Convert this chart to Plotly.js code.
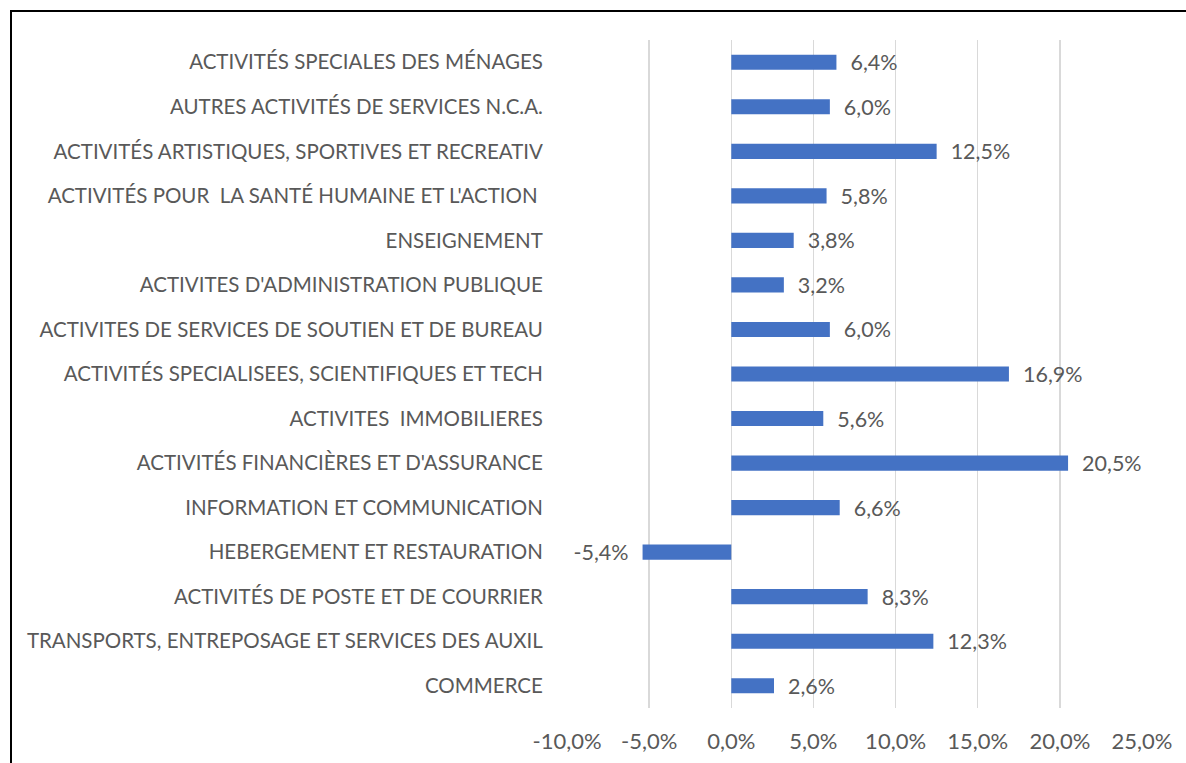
<!DOCTYPE html>
<html>
<head>
<meta charset="utf-8">
<script src="https://cdn.plot.ly/plotly-3.0.1.min.js"></script>
<style>
html,body{margin:0;padding:0;background:#fff;}
#chart{width:1186px;height:763px;position:absolute;left:0;top:0;}
#frame{position:absolute;left:10px;top:10px;width:1200px;height:800px;border-left:2px solid #000;border-top:2px solid #000;pointer-events:none;}
</style>
</head>
<body>
<div id="chart"></div>
<div id="frame"></div>
<script>
const categories = [
  "ACTIVITÉS SPECIALES DES MÉNAGES",
  "AUTRES ACTIVITÉS DE SERVICES N.C.A.",
  "ACTIVITÉS ARTISTIQUES, SPORTIVES ET RECREATIV",
  "ACTIVITÉS POUR  LA SANTÉ HUMAINE ET L'ACTION ",
  "ENSEIGNEMENT",
  "ACTIVITES D'ADMINISTRATION PUBLIQUE",
  "ACTIVITES DE SERVICES DE SOUTIEN ET DE BUREAU",
  "ACTIVITÉS SPECIALISEES, SCIENTIFIQUES ET TECH",
  "ACTIVITES  IMMOBILIERES",
  "ACTIVITÉS FINANCIÈRES ET D'ASSURANCE",
  "INFORMATION ET COMMUNICATION",
  "HEBERGEMENT ET RESTAURATION",
  "ACTIVITÉS DE POSTE ET DE COURRIER",
  "TRANSPORTS, ENTREPOSAGE ET SERVICES DES AUXIL",
  "COMMERCE"
];
const values = [0.064, 0.060, 0.125, 0.058, 0.038, 0.032, 0.060, 0.169, 0.056, 0.205, 0.066, -0.054, 0.083, 0.123, 0.026];
const tickValues = [-0.10, -0.05, 0, 0.05, 0.10, 0.15, 0.20, 0.25];

function fmtPct(v) {
  return (v * 100).toFixed(1).replace(".", ",") + "%";
}
const NB = "\u00a0\u00a0";
const barText = values.map(v => v < 0 ? fmtPct(v) + NB : NB + fmtPct(v));
const tickText = tickValues.map(fmtPct);

const FONT = "Lato, 'Open Sans', sans-serif";
const GREY = "#595959";

const trace = {
  type: "bar",
  orientation: "h",
  x: values,
  y: categories,
  marker: {color: "#4472C4"},
  text: barText,
  texttemplate: "%{text}",
  textposition: "outside",
  constraintext: "none",
  cliponaxis: false,
  textfont: {family: FONT, size: 21.5, color: GREY},
  hoverinfo: "skip"
};

const layout = {
  width: 1186,
  height: 763,
  margin: {l: 567, r: 44, t: 40, b: 55},
  paper_bgcolor: "#fff",
  plot_bgcolor: "#fff",
  showlegend: false,
  bargap: 0.66,
  font: {family: FONT, size: 19, color: GREY},
  xaxis: {
    range: [-0.10, 0.25],
    tickvals: tickValues,
    ticktext: tickText,
    showgrid: true,
    gridcolor: "#D9D9D9",
    gridwidth: 1.5,
    zeroline: false,
    showline: false,
    ticks: "outside",
    ticklen: 14,
    tickcolor: "rgba(0,0,0,0)",
    tickfont: {family: FONT, size: 22, color: GREY},
    fixedrange: true
  },
  yaxis: {
    autorange: "reversed",
    type: "category",
    showgrid: false,
    zeroline: false,
    showline: false,
    ticks: "outside",
    ticklen: 19,
    tickcolor: "rgba(0,0,0,0)",
    tickfont: {family: FONT, size: 20.5, color: GREY},
    fixedrange: true
  }
};

Plotly.newPlot("chart", [trace], layout, {displayModeBar: false, staticPlot: true});
</script>
</body>
</html>
